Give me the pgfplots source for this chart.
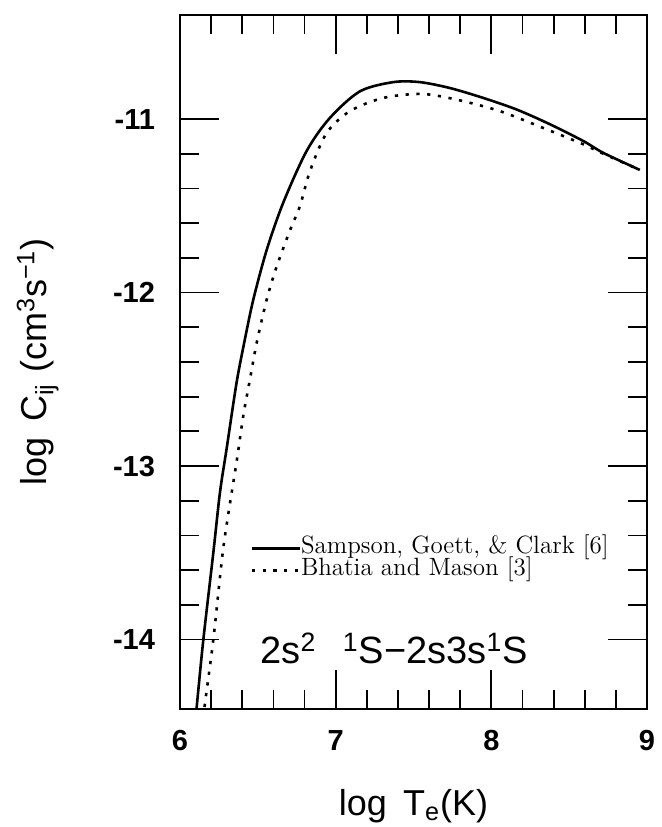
\documentclass[border=0pt]{standalone}
\usepackage{pgfplots}
\pgfplotsset{compat=1.18}
\usepackage{fontspec}
\newfontfamily\hv{Liberation Sans}

\begin{document}
\begin{tikzpicture}
\begin{axis}[
    scale only axis,
    width=233.5pt, height=347pt,
    xmin=6, xmax=9, ymin=-14.4, ymax=-10.4,
    xtick={6,7,8,9}, xticklabels={6,7,8,9},
    ytick={-14,-13,-12,-11}, yticklabels={-14,-13,-12,-11},
    minor x tick num=4, minor y tick num=4,
    tick align=inside,
    major tick length=19.5pt, minor tick length=9.5pt,
    axis line style={line width=1pt},
    every tick/.style={black, line width=0.9pt},
    tick label style={font=\hv\bfseries\fontsize{14.5}{16}\selectfont},
    xticklabel style={yshift=-7pt},
    yticklabel style={xshift=-9pt},
    xlabel={log\hspace{0.45em}T\textsubscript{e}(K)},
    xlabel style={font=\hv\fontsize{18}{20}\selectfont, inner sep=0pt,
        at={(axis description cs:0.5,0)}, anchor=base, yshift=-53pt},
    ylabel={log\hspace{0.45em}C\textsubscript{ij}\hspace{0.3em}(cm\textsuperscript{3}s\textsuperscript{−1})},
    ylabel style={font=\hv\fontsize{18}{20}\selectfont, inner sep=0pt,
        at={(axis description cs:-0.285,0.5)}, anchor=base},
    legend style={at={(axis description cs:0.15,0.215)}, anchor=west,
        draw=none, fill=none, font=\fontsize{12.5}{13}\selectfont,
        row sep=2pt, inner sep=0pt,
        nodes={inner sep=0pt, text height=7pt, text depth=2pt},
        /tikz/every even column/.append style={column sep=3pt}},
    legend cell align=left,
    legend image code/.code={\draw[#1] (0pt,0pt) -- (24pt,0pt);},
]
% Sampson, Goett & Clark
\addplot[black, line width=1.3pt, smooth] coordinates {
(6.100,-14.45) (6.107,-14.39) (6.150,-14.00) (6.214,-13.50) (6.257,-13.15)
(6.300,-12.897) (6.364,-12.516) (6.417,-12.269) (6.471,-12.04) (6.557,-11.754)
(6.664,-11.48) (6.814,-11.183) (6.963,-10.993) (7.156,-10.840) (7.370,-10.787)
(7.541,-10.787) (7.734,-10.821) (7.948,-10.878) (8.163,-10.945) (8.377,-11.030)
(8.590,-11.126) (8.720,-11.195) (8.954,-11.293)
};
\addlegendentry{Sampson, Goett, \& Clark [6]}
% Bhatia and Mason
\addplot[black, line width=1.3pt, dash pattern=on 1.6pt off 3.8pt, smooth] coordinates {
(6.150,-14.45) (6.160,-14.37) (6.214,-14.00) (6.272,-13.516) (6.310,-13.278)
(6.364,-12.973) (6.407,-12.707) (6.450,-12.497) (6.493,-12.288) (6.557,-12.04)
(6.621,-11.850) (6.707,-11.64) (6.771,-11.50) (6.835,-11.30) (6.942,-11.08)
(7.092,-10.954) (7.306,-10.878) (7.552,-10.855) (7.777,-10.888) (8.055,-10.954)
(8.355,-11.059) (8.590,-11.145) (8.720,-11.200) (8.954,-11.293)
};
\addlegendentry{Bhatia and Mason [3]}
\node[anchor=base west, inner sep=0pt, font=\hv\fontsize{19}{20}\selectfont]
    at (axis cs:6.514,-14.14)
    {2s\textsuperscript{2}\hspace{0.7em}\textsuperscript{1}S−2s3s\textsuperscript{1}S};
\end{axis}
\path (current axis.south west) ++(-90pt,-59pt);
\path (current axis.north east) ++(5.5pt,7.5pt);
\end{tikzpicture}
\end{document}
